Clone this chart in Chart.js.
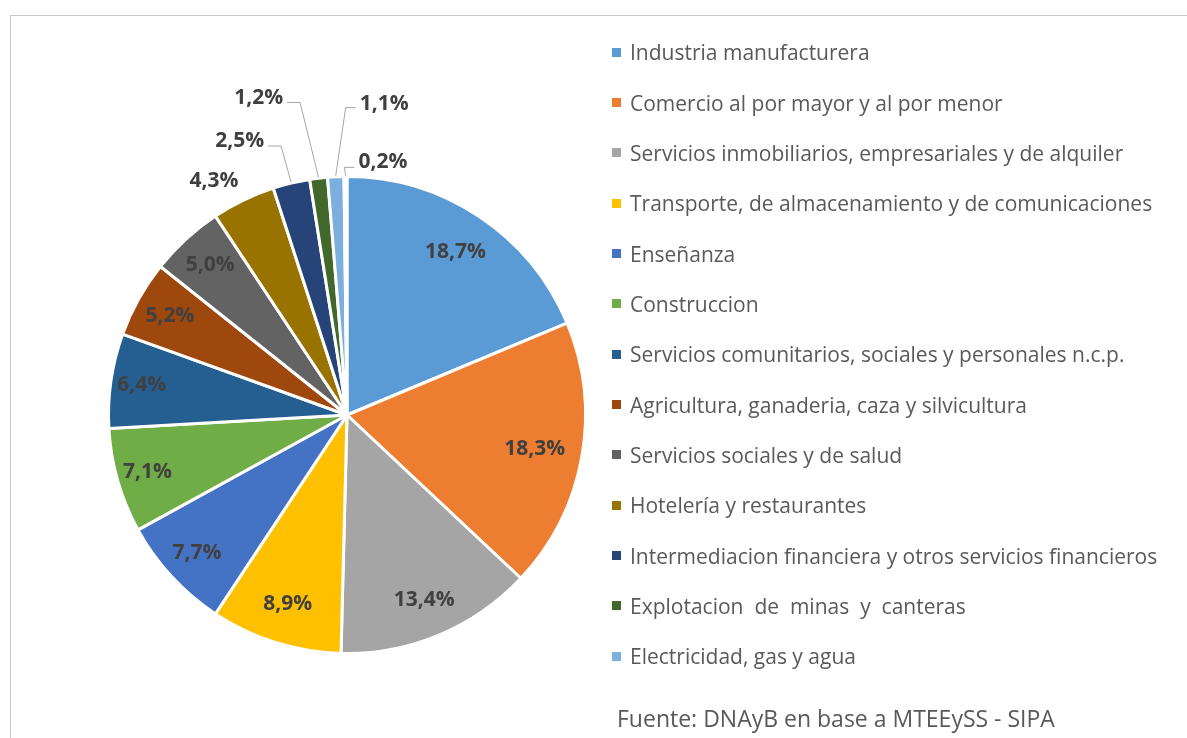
<!DOCTYPE html>
<html><head><meta charset="utf-8">
<script src="https://cdn.jsdelivr.net/npm/chart.js@4.4.0/dist/chart.umd.min.js"></script>
<style>
html,body{margin:0;padding:0;background:#fff;width:1187px;height:738px;overflow:hidden;font-family:"Open Sans",sans-serif;}
#frame{position:absolute;left:10px;top:15px;width:1300px;height:900px;border-left:1px solid #C8C8C8;border-top:1px solid #C8C8C8;}
#wrap{position:absolute;left:0;top:0;width:1187px;height:738px;}
#legend{position:absolute;left:612px;top:27px;margin:0;padding:0;list-style:none;}
#legend li{height:50.35px;display:flex;align-items:center;white-space:pre;color:#595959;font-size:21px;}
#legend .sw{width:9px;height:9px;margin-right:9px;flex:none}
#source{position:absolute;left:617px;top:702px;color:#595959;font-size:23px;white-space:pre;line-height:32px}
</style></head><body>
<div id="frame"></div>
<div id="wrap"><canvas id="c"></canvas></div>
<ul id="legend"></ul>
<div id="source">Fuente: DNAyB en base a MTEEySS - SIPA</div>
<script>
const categories = [
  "Industria manufacturera",
  "Comercio al por mayor y al por menor",
  "Servicios inmobiliarios, empresariales y de alquiler",
  "Transporte, de almacenamiento y de comunicaciones",
  "Enseñanza",
  "Construccion",
  "Servicios comunitarios, sociales y personales n.c.p.",
  "Agricultura, ganaderia, caza y silvicultura",
  "Servicios sociales y de salud",
  "Hotelería y restaurantes",
  "Intermediacion financiera y otros servicios financieros",
  "Explotacion  de  minas  y  canteras",
  "Electricidad, gas y agua",
  "Otros"
];
const shares = [18.7, 18.3, 13.4, 8.9, 7.7, 7.1, 6.4, 5.2, 5.0, 4.3, 2.5, 1.2, 1.1, 0.2];
const sliceColors = ["#5B9BD5","#ED7D31","#A5A5A5","#FFC000","#4472C4","#70AD47","#255E91","#9E480E","#636363","#997300","#264478","#43682B","#7CAFDD","#F1975A"];
const legendHidden = ["Otros"];
const sourceText = "Fuente: DNAyB en base a MTEEySS - SIPA";

// label placement (style): radial factor, optional fixed polar angle (deg clockwise from top), leader side
const labelPlacement = [
  {r:0.82},{r:0.80},{r:0.84},{r:0.83},{r:0.855},{r:0.87},{r:0.87},{r:0.85},{r:0.85},
  {r:1.13, angle:330.4},
  {r:1.234, angle:338.6, side:'left', dy:5},
  {r:1.378, angle:344.4, side:'left', dy:4},
  {r:1.315, angle:6.8, side:'right', dy:4},
  {r:1.07, angle:8.1, side:'right', dy:5}
];
const fmt = v => v.toFixed(1).replace('.', ',') + '%';

const labelPlugin = {
  id: 'sliceLabels',
  afterDatasetsDraw(chart) {
    const ctx = chart.ctx;
    const meta = chart.getDatasetMeta(0);
    const values = chart.data.datasets[0].data;
    ctx.save();
    ctx.font = 'bold 21px "Open Sans"';
    ctx.textBaseline = 'middle';
    ctx.textAlign = 'center';
    meta.data.forEach((arc, i) => {
      const p = labelPlacement[i];
      const {x, y, startAngle, endAngle, outerRadius} = arc.getProps(['x','y','startAngle','endAngle','outerRadius'], true);
      const mid = (startAngle + endAngle) / 2;
      const ang = p.angle !== undefined ? (p.angle - 90) * Math.PI / 180 : mid;
      const lx = x + Math.cos(ang) * outerRadius * p.r;
      const ly = y + Math.sin(ang) * outerRadius * p.r;
      const text = fmt(values[i]);
      if (p.side) {
        const w = ctx.measureText(text).width;
        const ex = x + Math.cos(mid) * (outerRadius + 1);
        const ey = y + Math.sin(mid) * (outerRadius + 1);
        let sx, kx;
        if (p.side === 'left') { sx = lx + w / 2 + 4; kx = sx + 13; }
        else { sx = lx - w / 2 - 4; kx = sx - 10; }
        ctx.beginPath();
        ctx.strokeStyle = '#A6A6A6';
        ctx.lineWidth = 1;
        ctx.moveTo(sx, ly + p.dy); ctx.lineTo(kx, ly + p.dy); ctx.lineTo(ex, ey);
        ctx.stroke();
      }
      ctx.fillStyle = '#404040';
      ctx.fillText(text, lx, ly);
    });
    ctx.restore();
  }
};

const chart = new Chart(document.getElementById('c'), {
  type: 'pie',
  data: {
    labels: categories,
    datasets: [{
      data: shares,
      backgroundColor: sliceColors,
      borderColor: '#FFFFFF',
      borderWidth: 3,
      hoverOffset: 0,
      offset: 0
    }]
  },
  options: {
    responsive: true,
    maintainAspectRatio: false,
    animation: false,
    layout: { padding: { left: 107, top: 175, right: 600, bottom: 83 } },
    plugins: {
      legend: { display: false },
      tooltip: { enabled: false }
    }
  },
  plugins: [labelPlugin]
});

// HTML legend built from the chart's own legend items
const ul = document.getElementById('legend');
Chart.overrides.pie.plugins.legend.labels.generateLabels(chart)
  .filter(item => !legendHidden.includes(item.text))
  .forEach(item => {
    const li = document.createElement('li');
    const sw = document.createElement('span');
    sw.className = 'sw';
    sw.style.background = item.fillStyle;
    li.appendChild(sw);
    li.appendChild(document.createTextNode(item.text));
    ul.appendChild(li);
  });
document.getElementById('source').textContent = sourceText;
</script>
</body></html>
